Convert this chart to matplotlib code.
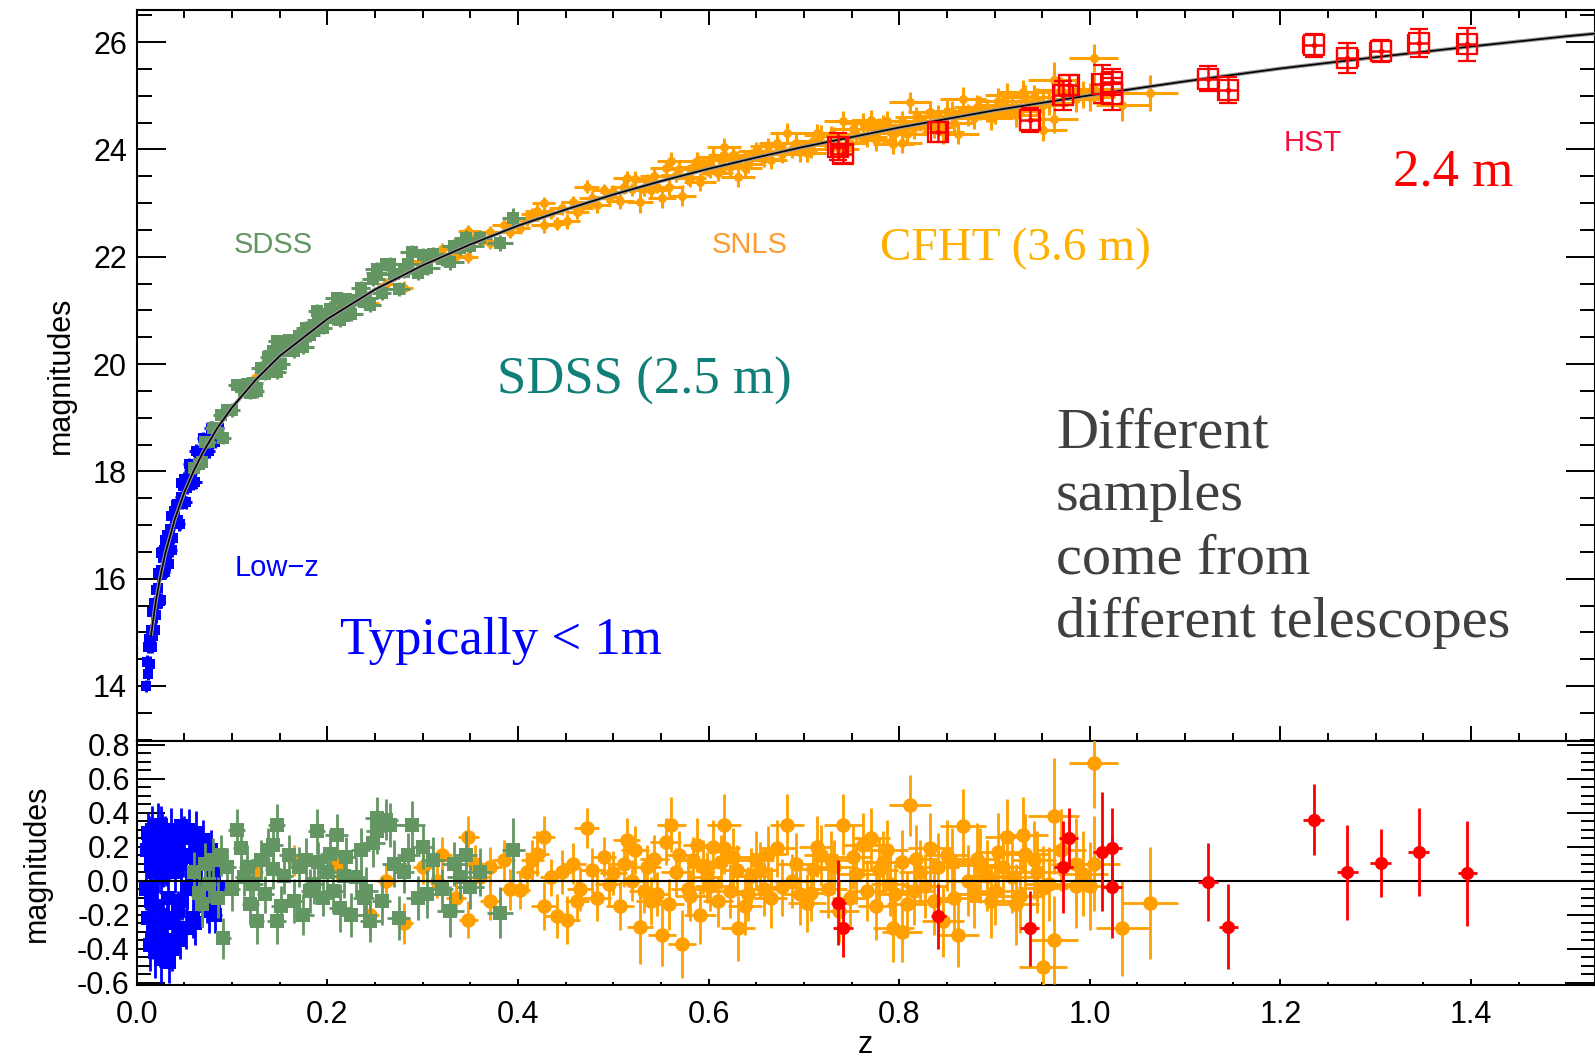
import matplotlib
matplotlib.use("Agg")
import matplotlib.pyplot as plt
from matplotlib.ticker import MultipleLocator, FixedLocator, FormatStrFormatter

# ---------------- data ----------------
curve_z = [0.015,0.02,0.025,0.03,0.04,0.05,0.06,0.07,0.085,0.10,0.125,0.15,0.20,0.25,0.30,0.35,0.40,0.45,0.50,0.55,
           0.60,0.65,0.70,0.75,0.80,0.85,0.90,0.95,1.00,1.05,1.10,1.20,1.30,1.40,1.50,1.53]
curve_m = [14.94,15.57,16.06,16.47,17.11,17.61,18.02,18.37,18.82,19.19,19.71,20.15,20.84,21.39,21.84,22.23,22.58,22.88,23.16,23.41,
           23.64,23.85,24.05,24.23,24.41,24.57,24.73,24.87,25.01,25.14,25.27,25.51,25.72,25.92,26.11,26.16]

lowz_z = [0.010,0.011,0.012,0.013,0.014,0.015,0.015,0.016,0.017,0.018,0.019,0.020,0.021,0.022,0.023,0.024,0.025,0.026,0.027,0.028,
          0.029,0.030,0.031,0.032,0.033,0.034,0.036,0.038,0.040,0.042,0.044,0.046,0.048,0.050,0.053,0.056,0.059,0.062,0.065,0.068,
          0.072,0.076,0.080,0.084,
          0.012,0.014,0.016,0.018,0.020,0.022,0.024,0.026,0.028,0.030,0.032,0.035,0.037,0.039,0.043,0.047,
          0.041,0.045,0.049,0.052,0.055,0.058,0.061,0.064,0.067,0.070,0.074,0.078,0.082,0.086]
lowz_mag = [14.00,14.44,14.23,14.87,14.41,15.04,14.82,15.38,14.93,15.39,15.04,15.79,15.53,16.10,15.58,16.09,15.60,16.17,16.50,16.11,
            16.54,16.12,16.62,16.81,16.58,16.27,17.17,16.75,17.16,17.40,17.02,17.52,17.40,17.86,17.69,18.01,17.77,18.38,18.33,18.16,
            18.54,18.38,18.74,18.71,
            14.73,14.74,14.73,15.54,15.32,15.83,15.59,16.48,16.39,16.72,16.39,16.93,16.54,17.27,17.09,17.79,
            17.37,17.02,17.72,17.42,18.13,17.97,17.81,18.37,18.23,18.62,18.38,18.81,18.54,18.80]
lowz_res = [-0.05,0.18,-0.22,0.25,-0.38,0.10,-0.12,0.30,-0.28,0.05,-0.42,0.22,-0.15,0.32,-0.30,0.12,-0.46,0.02,0.27,-0.20,
            0.15,-0.35,0.08,0.20,-0.10,-0.48,0.30,-0.25,0.05,0.18,-0.30,0.10,-0.12,0.25,-0.05,0.14,-0.22,0.28,0.12,-0.15,
            0.10,-0.18,0.06,-0.08,
            0.28,-0.05,-0.35,0.20,-0.25,0.05,-0.38,0.33,0.08,0.25,-0.22,0.12,-0.40,0.22,-0.18,0.32,
            0.20,-0.35,0.15,-0.28,0.30,0.02,-0.25,0.20,-0.05,0.24,-0.12,0.18,-0.20,-0.05]
lowz_err = [0.12,0.14,0.11,0.13,0.15,0.12,0.10,0.14,0.13,0.11,0.15,0.12,0.13,0.14,0.12,0.11,0.14,0.10,0.13,0.12,
            0.15,0.13,0.11,0.12,0.14,0.12,0.13,0.11,0.12,0.14,0.13,0.12,0.11,0.13,0.12,0.14,0.12,0.13,0.10,0.12,
            0.11,0.13,0.12,0.11,
            0.12,0.13,0.11,0.12,0.14,0.12,0.13,0.11,0.12,0.13,0.12,0.11,0.13,0.12,0.12,0.11,
            0.12,0.11,0.13,0.12,0.12,0.11,0.13,0.12,0.11,0.12,0.13,0.12,0.11,0.12]
lowz_zerr = [0.002,0.003,0.002,0.003,0.004,0.003,0.002,0.003,0.004,0.003,0.002,0.004,0.003,0.004,0.003,0.004,0.003,0.004,0.005,0.003,
             0.004,0.005,0.004,0.003,0.005,0.004,0.005,0.004,0.006,0.005,0.004,0.006,0.005,0.006,0.005,0.006,0.005,0.007,0.006,0.005,
             0.007,0.006,0.007,0.006,
             0.003,0.003,0.004,0.003,0.004,0.004,0.003,0.005,0.004,0.005,0.004,0.005,0.005,0.004,0.006,0.005,
             0.005,0.006,0.005,0.006,0.006,0.005,0.007,0.006,0.006,0.007,0.006,0.007,0.007,0.006]

sdss_z = [0.060,0.065,0.068,0.072,0.076,0.080,0.085,0.091,0.095,0.100,0.105,0.109,0.113,0.119,0.126,0.130,0.135,0.143,0.143,0.147,
          0.147,0.155,0.160,0.165,0.170,0.175,0.182,0.189,0.190,0.195,0.200,0.206,0.210,0.213,0.220,0.225,0.230,0.235,0.241,0.245,
          0.252,0.252,0.257,0.262,0.266,0.270,0.275,0.280,0.289,0.295,0.300,0.311,0.320,0.329,0.339,0.345,0.350,0.360,0.381,0.395,
          0.088,0.116,0.122,0.138,0.151,0.178,0.186,0.203,0.217,0.238,0.248,0.285,0.305,0.333]
sdss_mag = [18.07,18.14,18.17,18.54,18.54,18.80,18.72,18.63,19.15,19.14,19.61,19.58,19.50,19.46,19.49,19.93,19.82,20.24,20.10,20.43,
            19.86,20.25,20.45,20.25,20.52,20.31,20.55,20.99,20.82,20.68,20.89,20.85,21.23,20.83,21.21,20.93,21.20,21.41,21.23,21.10,
            21.78,21.70,21.33,21.86,21.87,21.68,21.40,21.72,22.08,21.70,22.04,22.05,21.95,21.90,22.17,22.35,22.20,22.35,22.26,22.72,
            19.05,19.62,19.64,20.13,20.01,20.67,20.64,21.03,21.07,21.16,21.59,21.86,21.80,22.21]
sdss_res = [0.05,-0.07,-0.14,0.10,-0.02,0.12,-0.10,-0.34,0.08,-0.05,0.30,0.19,0.02,-0.14,-0.24,0.12,-0.08,0.21,0.07,0.33,
            -0.24,0.03,0.15,-0.12,0.08,-0.20,-0.06,0.29,0.11,-0.10,0.05,-0.06,0.27,-0.16,0.14,-0.20,0.02,0.18,-0.06,-0.24,
            0.37,0.29,-0.12,0.36,0.33,0.10,-0.22,0.05,0.33,-0.10,0.20,0.12,-0.05,-0.18,0.02,0.15,-0.035,0.05,-0.19,0.18,
            0.15,0.08,-0.02,0.18,-0.15,0.12,-0.02,0.16,0.03,-0.10,0.22,0.15,-0.08,0.10]
sdss_err = [0.12,0.11,0.13,0.12,0.11,0.13,0.12,0.12,0.11,0.13,0.12,0.13,0.11,0.12,0.13,0.12,0.11,0.13,0.12,0.12,
            0.13,0.11,0.12,0.13,0.12,0.12,0.13,0.13,0.12,0.11,0.12,0.13,0.12,0.14,0.12,0.13,0.12,0.13,0.14,0.12,
            0.12,0.13,0.14,0.12,0.13,0.14,0.13,0.12,0.14,0.13,0.13,0.14,0.12,0.15,0.13,0.14,0.13,0.14,0.15,0.19,
            0.12,0.13,0.12,0.13,0.12,0.13,0.12,0.14,0.13,0.12,0.14,0.13,0.14,0.13]
sdss_zerr = [0.006,0.007,0.006,0.008,0.007,0.008,0.007,0.008,0.009,0.008,0.009,0.008,0.010,0.009,0.008,0.010,0.009,0.010,0.008,0.009,
             0.010,0.009,0.011,0.010,0.009,0.011,0.010,0.009,0.011,0.010,0.011,0.010,0.012,0.011,0.010,0.012,0.011,0.010,0.012,0.011,
             0.012,0.011,0.010,0.012,0.011,0.013,0.012,0.011,0.013,0.012,0.012,0.013,0.012,0.014,0.013,0.012,0.014,0.013,0.014,0.012,
             0.008,0.009,0.010,0.009,0.010,0.011,0.010,0.011,0.012,0.011,0.012,0.012,0.013,0.013]

snls_z = [0.124,0.165,0.210,0.245,0.262,0.280,0.300,0.320,0.335,0.348,
          0.348,0.360,0.371,0.371,0.385,0.402,0.410,0.420,0.427,0.427,
          0.435,0.441,0.451,0.458,0.465,0.472,0.478,0.483,0.490,0.500,
          0.507,0.514,0.520,0.523,0.528,0.535,0.540,0.546,0.551,0.555,
          0.561,0.566,0.572,0.578,0.584,0.588,0.591,0.598,0.605,0.610,
          0.616,0.616,0.622,0.631,0.630,0.638,0.644,0.650,0.658,0.665,
          0.672,0.682,0.688,0.696,0.703,0.710,0.718,0.725,0.732,0.741,
          0.748,0.755,0.762,0.770,0.776,0.783,0.790,0.794,0.796,0.803,
          0.803,0.811,0.815,0.822,0.832,0.836,0.846,0.855,0.862,0.867,
          0.872,0.878,0.885,0.892,0.900,0.904,0.913,0.918,0.923,0.930,
          0.932,0.945,0.951,0.951,0.962,0.962,0.985,0.986,1.000,1.004,
          1.004,1.034,1.063,
          0.315,0.355,0.392,0.415,0.446,0.462,0.495,0.511,0.532,0.543,
          0.558,0.569,0.581,0.594,0.602,0.613,0.626,0.641,0.654,0.662,
          0.677,0.692,0.707,0.714,0.728,0.737,0.751,0.766,0.779,0.787,
          0.808,0.818,0.827,0.841,0.850,0.858,0.882,0.896,0.909,0.927,
          0.941,0.957,0.970,0.993]
snls_mag = [19.74,20.49,21.06,21.14,21.50,21.42,21.92,22.15,22.02,22.48,
            21.99,22.32,22.46,22.26,22.59,22.53,22.69,22.86,23.00,22.59,
            22.81,22.62,22.66,23.02,22.91,23.31,23.09,22.96,23.24,23.20,
            23.04,23.47,23.26,23.45,23.03,23.41,23.24,23.31,23.09,23.66,
            23.79,23.53,23.14,23.49,23.68,23.79,23.40,23.65,23.86,23.56,
            24.04,23.90,23.67,23.49,23.83,23.65,23.85,23.97,23.83,23.81,
            24.13,24.31,24.00,23.95,23.93,24.16,24.27,24.09,24.25,24.53,
            24.13,24.29,24.49,24.55,24.17,24.46,24.35,24.11,24.31,24.53,
            24.12,24.89,24.40,24.53,24.70,24.41,24.32,24.70,24.29,24.94,
            24.64,24.58,24.77,24.73,24.67,24.91,25.02,24.80,24.65,25.08,
            24.98,24.91,24.83,24.37,25.29,24.56,24.94,25.07,24.98,25.12,
            25.71,24.82,25.05,
            21.96,22.37,22.47,22.79,22.91,22.83,23.11,23.31,23.26,23.50,
            23.30,23.64,23.46,23.69,23.62,23.80,23.89,23.73,23.93,24.06,
            23.92,24.12,24.01,24.30,24.27,24.01,24.38,24.23,24.40,24.54,
            24.29,24.60,24.47,24.62,24.72,24.50,24.80,24.59,24.83,24.72,
            24.97,24.87,25.11,25.03]
snls_res = [0.05,0.12,0.10,-0.20,0.00,-0.25,0.08,0.15,-0.10,0.26,
            -0.23,0.02,0.08,-0.12,0.12,-0.055,0.05,0.16,0.26,-0.15,
            0.02,-0.21,-0.23,0.10,-0.05,0.31,0.06,-0.10,0.14,0.045,
            -0.15,0.24,0.00,0.18,-0.27,0.08,-0.12,-0.08,-0.32,0.23,
            0.33,0.05,-0.37,-0.05,0.12,0.21,-0.20,0.02,0.20,-0.12,
            0.33,0.19,-0.06,-0.28,0.06,-0.15,0.03,0.12,-0.05,-0.10,
            0.19,0.33,0.00,-0.08,-0.13,0.07,0.15,-0.05,0.08,0.33,
            -0.10,0.04,0.21,0.25,-0.15,0.11,-0.02,-0.28,-0.08,0.11,
            -0.30,0.445,-0.06,0.05,0.19,-0.12,-0.24,0.11,-0.32,0.32,
            0.00,-0.08,0.09,0.03,-0.06,0.17,0.26,0.02,-0.14,0.27,
            0.16,0.05,-0.045,-0.51,0.38,-0.35,-0.03,0.10,-0.03,0.10,
            0.69,-0.28,-0.13,
            0.00,0.10,-0.05,0.12,0.05,-0.12,-0.02,0.10,-0.06,0.13,
            -0.14,0.15,-0.09,0.08,-0.03,0.11,0.14,-0.08,0.06,0.16,
            -0.04,0.10,-0.07,0.20,0.12,-0.18,0.14,-0.06,0.06,0.18,
            -0.14,0.13,-0.03,0.08,0.15,-0.10,0.13,-0.12,0.08,-0.09,
            0.12,-0.02,0.18,0.04]
snls_err = [0.10,0.09,0.10,0.11,0.10,0.12,0.10,0.11,0.10,0.12,
            0.11,0.10,0.12,0.11,0.12,0.11,0.12,0.13,0.12,0.14,
            0.11,0.13,0.14,0.12,0.13,0.12,0.13,0.14,0.12,0.13,
            0.14,0.13,0.12,0.14,0.22,0.13,0.14,0.13,0.18,0.14,
            0.16,0.14,0.20,0.15,0.14,0.16,0.17,0.15,0.16,0.15,
            0.18,0.15,0.16,0.19,0.15,0.17,0.16,0.17,0.16,0.18,
            0.17,0.18,0.16,0.18,0.17,0.16,0.18,0.17,0.16,0.18,
            0.17,0.18,0.19,0.18,0.20,0.18,0.19,0.20,0.18,0.19,
            0.18,0.18,0.20,0.19,0.21,0.20,0.21,0.20,0.19,0.22,
            0.21,0.20,0.22,0.21,0.20,0.23,0.22,0.21,0.24,0.22,
            0.23,0.24,0.25,0.22,0.34,0.26,0.25,0.27,0.26,0.28,
            0.26,0.28,0.33,
            0.10,0.11,0.12,0.12,0.13,0.12,0.13,0.14,0.13,0.14,
            0.15,0.14,0.15,0.16,0.15,0.16,0.17,0.16,0.17,0.16,
            0.17,0.18,0.17,0.18,0.17,0.18,0.19,0.18,0.19,0.18,
            0.19,0.20,0.19,0.20,0.21,0.20,0.21,0.22,0.21,0.22,
            0.23,0.22,0.24,0.25]
snls_zerr = [0.008,0.008,0.009,0.009,0.010,0.010,0.010,0.011,0.010,0.011,
             0.010,0.011,0.012,0.011,0.012,0.011,0.012,0.013,0.012,0.013,
             0.012,0.013,0.014,0.013,0.014,0.013,0.014,0.015,0.013,0.014,
             0.015,0.014,0.013,0.015,0.014,0.015,0.016,0.014,0.015,0.016,
             0.015,0.016,0.015,0.017,0.016,0.015,0.017,0.016,0.017,0.016,
             0.018,0.017,0.016,0.018,0.017,0.018,0.017,0.019,0.018,0.017,
             0.019,0.018,0.019,0.018,0.020,0.019,0.018,0.020,0.019,0.020,
             0.019,0.020,0.021,0.020,0.019,0.021,0.020,0.022,0.021,0.020,
             0.021,0.022,0.021,0.022,0.023,0.021,0.022,0.023,0.022,0.024,
             0.023,0.022,0.024,0.023,0.025,0.024,0.023,0.025,0.024,0.026,
             0.025,0.024,0.026,0.025,0.027,0.026,0.025,0.027,0.026,0.028,
             0.026,0.028,0.030,
             0.010,0.011,0.012,0.012,0.013,0.013,0.014,0.014,0.015,0.015,
             0.016,0.015,0.016,0.017,0.016,0.017,0.018,0.017,0.018,0.019,
             0.018,0.019,0.020,0.019,0.020,0.021,0.020,0.021,0.020,0.022,
             0.021,0.022,0.023,0.022,0.023,0.022,0.024,0.023,0.024,0.025,
             0.024,0.025,0.026,0.026]

hst_z = [0.736,0.741,0.841,0.937,0.972,0.978,1.013,1.023,1.023,1.124,1.145,1.235,1.270,1.305,1.345,1.396]
hst_mag = [24.05,23.92,24.33,24.55,25.01,25.20,25.22,25.26,25.04,25.32,25.11,25.94,25.71,25.84,25.98,25.96]
hst_res = [-0.13,-0.28,-0.21,-0.28,0.08,0.25,0.17,0.19,-0.035,-0.01,-0.27,0.36,0.05,0.105,0.167,0.043]
hst_err = [0.25,0.17,0.19,0.22,0.27,0.18,0.35,0.24,0.30,0.23,0.25,0.21,0.28,0.20,0.26,0.31]
hst_zerr = [0.008,0.010,0.008,0.010,0.010,0.010,0.010,0.011,0.011,0.010,0.010,0.011,0.011,0.011,0.011,0.010]

# ---------------- style ----------------
BLUE = '#0000ff'
GREEN = '#649664'
ORANGE = '#ffa000'
RED = '#ff0000'
SANS = ['Liberation Sans', 'DejaVu Sans']
SERIF = ['Liberation Serif', 'DejaVu Serif']
plt.rcParams['font.family'] = SANS

W, H = 1595, 1058
fig = plt.figure(figsize=(W / 100, H / 100), dpi=100)

left = 136.7 / W
ax1 = fig.add_axes([left, (H - 740.7) / H, 1 - left, (740.7 - 10) / H])
ax2 = fig.add_axes([left, (H - 985) / H, 1 - left, (985 - 740.7) / H])

TICKFS = 22

# ---------------- top panel ----------------
ax1.plot(curve_z, curve_m, color='0.6', lw=2.8, zorder=5, solid_capstyle='butt')
ax1.plot(curve_z, curve_m, color='black', lw=1.2, zorder=6)

top = dict(linestyle='none', elinewidth=2.2, capthick=2.2)
ax1.errorbar(lowz_z, lowz_mag, yerr=lowz_err, xerr=lowz_zerr, fmt='s', color=BLUE, ms=6.5,
             mew=0, capsize=5.5, zorder=3, **top)
ax1.errorbar(snls_z, snls_mag, yerr=snls_err, xerr=snls_zerr, fmt='o', color=ORANGE, ms=6.5,
             mew=0, capsize=5.5, zorder=3, **top)
ax1.errorbar(sdss_z, sdss_mag, yerr=sdss_err, xerr=sdss_zerr, fmt='s', color=GREEN, ms=8.5,
             mew=0, capsize=5.5, zorder=4, **top)
ax1.errorbar(hst_z, hst_mag, yerr=hst_err, xerr=hst_zerr, fmt='s', color=RED, ms=14,
             mfc='none', mec=RED, mew=1.6, capsize=6.5, zorder=7, linestyle='none',
             elinewidth=1.8, capthick=1.8)
ax1.plot(hst_z, hst_mag, 'o', color=RED, ms=3, zorder=8)

ax1.set_xlim(0, 1.53)
ax1.set_ylim(12.98, 26.60)
ax1.xaxis.set_major_locator(MultipleLocator(0.2))
ax1.xaxis.set_minor_locator(MultipleLocator(0.05))
ax1.yaxis.set_major_locator(MultipleLocator(2))
ax1.yaxis.set_minor_locator(MultipleLocator(0.5))
ax1.tick_params(axis='x', which='both', direction='in', top=True, bottom=True, labelbottom=False, width=1.4)
ax1.tick_params(axis='x', which='major', length=11)
ax1.tick_params(axis='x', which='minor', length=5.5)
ax1.tick_params(axis='y', which='both', direction='in', left=True, right=True, width=1.4, labelsize=TICKFS, pad=7)
ax1.tick_params(axis='y', which='major', length=21)
ax1.tick_params(axis='y', which='minor', length=10.5)
ax1.set_ylabel('magnitudes', fontsize=22, va='center', ha='center')
ax1.yaxis.set_label_coords((61 - 136.7) / (W - 136.7), 0.5)

# ---------------- bottom panel ----------------
bot = dict(linestyle='none', elinewidth=2.0, capthick=2.0)
ax2.axhline(0.0, color='black', lw=1.5, zorder=6)
ax2.errorbar(lowz_z, lowz_res, yerr=lowz_err, xerr=lowz_zerr, fmt='s', color=BLUE, ms=9.5,
             mew=0, capsize=5, zorder=3, **bot)
ax2.errorbar(snls_z, snls_res, yerr=snls_err, xerr=snls_zerr, fmt='o', color=ORANGE, ms=10.5,
             mew=0, capsize=5, zorder=3, **bot)
ax2.errorbar(sdss_z, sdss_res, yerr=sdss_err, xerr=sdss_zerr, fmt='s', color=GREEN, ms=9.5,
             mew=0, capsize=5, zorder=4, **bot)
ax2.errorbar(hst_z, hst_res, yerr=hst_err, xerr=hst_zerr, fmt='o', color=RED, ms=9.5,
             mew=0, capsize=5, zorder=7, **bot)

ax2.set_xlim(0, 1.53)
ax2.set_ylim(-0.614, 0.824)
ax2.xaxis.set_major_locator(MultipleLocator(0.2))
ax2.xaxis.set_minor_locator(MultipleLocator(0.05))
ax2.xaxis.set_major_formatter(FormatStrFormatter('%.1f'))
ax2.yaxis.set_major_locator(FixedLocator([-0.6, -0.4, -0.2, 0.0, 0.2, 0.4, 0.6, 0.8]))
ax2.yaxis.set_minor_locator(MultipleLocator(0.05))
ax2.yaxis.set_major_formatter(FormatStrFormatter('%.1f'))
ax2.tick_params(axis='x', which='both', direction='in', top=False, bottom=True, width=1.4,
                labelsize=TICKFS, pad=11)
ax2.tick_params(axis='x', which='major', length=4)
ax2.tick_params(axis='x', which='minor', length=2.5)
ax2.tick_params(axis='y', which='both', direction='in', left=True, right=True, width=1.4,
                labelsize=TICKFS, pad=5)
ax2.tick_params(axis='y', which='major', length=20)
ax2.tick_params(axis='y', which='minor', length=10)
ax2.set_ylabel('magnitudes', fontsize=22, va='center', ha='center')
ax2.yaxis.set_label_coords((36.6 - 136.7) / (W - 136.7), 0.5)
ax2.set_xlabel('z', fontsize=22, va='center', ha='center')
ax2.xaxis.set_label_coords((865 - 136.7) / (W - 136.7), (985 - 1045) / (985 - 740.7))

for ax in (ax1, ax2):
    for s in ax.spines.values():
        s.set_linewidth(1.5)

# ---------------- annotations ----------------
def ftext(x, y, s, **kw):
    fig.text(x / W, 1 - y / H, s, ha='center', va='center', **kw)

ftext(273, 245, 'SDSS', color=GREEN, fontsize=21, family=SANS)
ftext(750, 245, 'SNLS', color='#ff9a30', fontsize=21, family=SANS)
ftext(1313, 143, 'HST', color='#f01040', fontsize=21, family=SANS)
ftext(277, 568, 'Low\u2212z', color=BLUE, fontsize=21, family=SANS)

ftext(644, 381, 'SDSS (2.5 m)', color='#0f7f77', fontsize=38, family=SERIF)
ftext(1015, 249, 'CFHT (3.6 m)', color='#ffb000', fontsize=34, family=SERIF)
ftext(1453, 173, '2.4 m', color=RED, fontsize=38, family=SERIF)
ftext(501, 641, 'Typically < 1m', color=BLUE, fontsize=38, family=SERIF)
fig.text(1056 / W, 1 - 528 / H, 'Different\nsamples\ncome from\ndifferent telescopes',
         ha='left', va='center', color='#404040', fontsize=42, family=SERIF, linespacing=1.28)

fig.savefig('out.png', dpi=100)
